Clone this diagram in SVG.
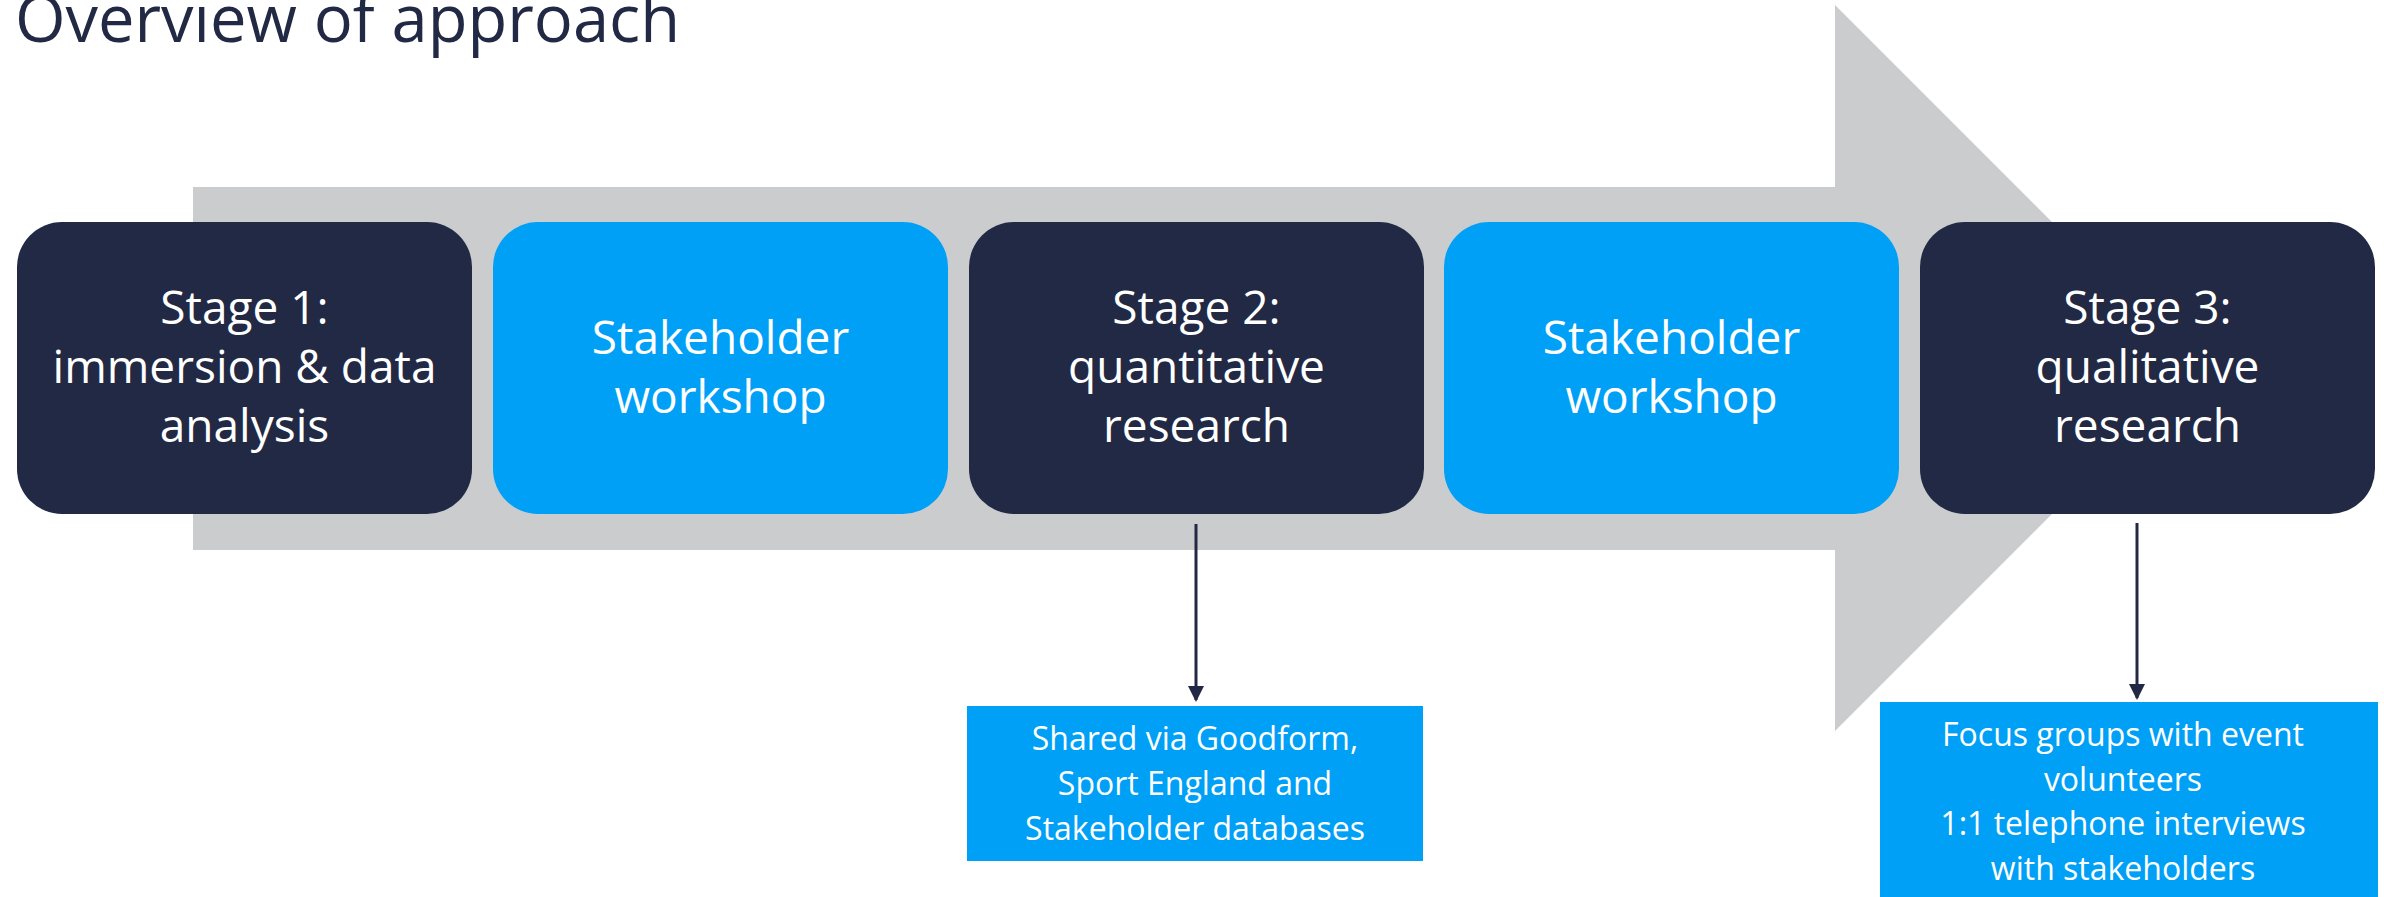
<svg xmlns="http://www.w3.org/2000/svg" width="2384" height="897" viewBox="0 0 2384 897">
  <style>
    .navy { fill: #222944; }
    .blue { fill: #00A0F6; }
    .lbl { font-family: "Open Sans", "Noto Sans", "Liberation Sans", sans-serif; fill: #FFFFFF; text-anchor: middle; }
    .big { font-size: 46px; }
    .small { font-size: 32px; }
    .title { font-family: "Open Sans", "Noto Sans", "Liberation Sans", sans-serif; font-size: 65px; fill: #222944; }
    .conn { stroke: #222944; stroke-width: 3; fill: none; }
  </style>
  <defs>
    <marker id="arrow" markerUnits="userSpaceOnUse" markerWidth="16" markerHeight="16" viewBox="0 0 16 16" refX="14" refY="8" orient="auto">
      <path d="M0,0 L16,8 L0,16 z" fill="#222944"/>
    </marker>
  </defs>
  <rect width="2384" height="897" fill="#FFFFFF"/>
  <text class="title" x="15" y="42" textLength="665" lengthAdjust="spacingAndGlyphs">Overview of approach</text>

  <polygon id="big-arrow" points="193,187 1835,187 1835,5 2198,368 1835,731 1835,550 193,550" fill="#CBCCCE"/>

  <g id="connectors">
    <line class="conn" x1="1196" y1="524" x2="1196" y2="700" marker-end="url(#arrow)"/>
    <line class="conn" x1="2137" y1="523" x2="2137" y2="698" marker-end="url(#arrow)"/>
  </g>

  <g id="stage1">
    <rect class="navy" x="17" y="222" width="455" height="292" rx="45"/>
    <text class="lbl big" x="244.5" y="324">Stage 1:</text>
    <text class="lbl big" x="244.5" y="383">immersion &amp; data</text>
    <text class="lbl big" x="244.5" y="442">analysis</text>
  </g>
  <g id="workshop1">
    <rect class="blue" x="493" y="222" width="455" height="292" rx="45"/>
    <text class="lbl big" x="720.5" y="353.5">Stakeholder</text>
    <text class="lbl big" x="720.5" y="412.5">workshop</text>
  </g>
  <g id="stage2">
    <rect class="navy" x="969" y="222" width="455" height="292" rx="45"/>
    <text class="lbl big" x="1196.5" y="324">Stage 2:</text>
    <text class="lbl big" x="1196.5" y="383">quantitative</text>
    <text class="lbl big" x="1196.5" y="442">research</text>
  </g>
  <g id="workshop2">
    <rect class="blue" x="1444" y="222" width="455" height="292" rx="45"/>
    <text class="lbl big" x="1671.5" y="353.5">Stakeholder</text>
    <text class="lbl big" x="1671.5" y="412.5">workshop</text>
  </g>
  <g id="stage3">
    <rect class="navy" x="1920" y="222" width="455" height="292" rx="45"/>
    <text class="lbl big" x="2147.5" y="324">Stage 3:</text>
    <text class="lbl big" x="2147.5" y="383">qualitative</text>
    <text class="lbl big" x="2147.5" y="442">research</text>
  </g>

  <g id="quant-detail">
    <rect class="blue" x="967" y="706" width="456" height="155"/>
    <text class="lbl small" x="1195" y="750">Shared via Goodform,</text>
    <text class="lbl small" x="1195" y="795">Sport England and</text>
    <text class="lbl small" x="1195" y="840">Stakeholder databases</text>
  </g>
  <g id="qual-detail">
    <rect class="blue" x="1880" y="702" width="498" height="200"/>
    <text class="lbl small" x="2123" y="746">Focus groups with event</text>
    <text class="lbl small" x="2123" y="791">volunteers</text>
    <text class="lbl small" x="2123" y="835">1:1 telephone interviews</text>
    <text class="lbl small" x="2123" y="880">with stakeholders</text>
  </g>
</svg>
